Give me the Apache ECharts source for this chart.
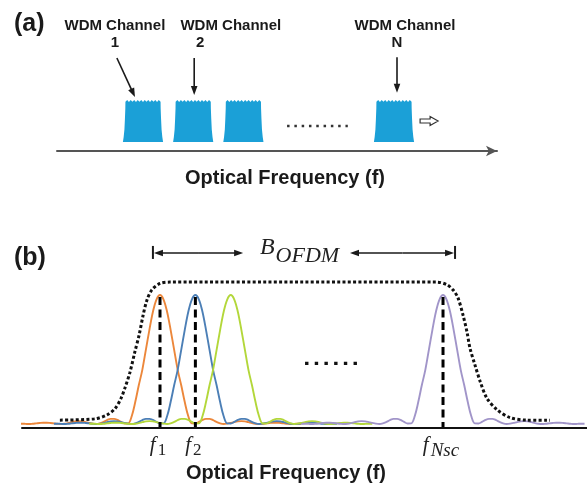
<!DOCTYPE html>
<html>
<head>
<meta charset="utf-8">
<title>WDM vs OFDM spectra</title>
<script src="https://cdn.jsdelivr.net/npm/echarts@6/dist/echarts.min.js"></script>
<style>
html,body{margin:0;padding:0;background:#ffffff;}
#chart{width:587px;height:486px;}
</style>
</head>
<body>
<div id="chart"></div>
<script>
// ===== Panel (a): WDM channels (x in channel-spacing units, y in normalised power) =====
const wdmAxisRange = [-0.713, 8.052];
const wdmLevelRange = [-0.2143, 1];
const wdmChannelPos = [1, 2, 3, 6];
const wdmBlockOffset = [-0.40, -0.385, -0.37, -0.36, -0.352, -0.35,
  -0.315, -0.28, -0.245, -0.21, -0.175, -0.14, -0.105, -0.07, -0.035, 0, 0.035, 0.07, 0.105, 0.14, 0.175, 0.21, 0.245, 0.28, 0.315,
  0.35, 0.352, 0.36, 0.37, 0.385, 0.40];
const wdmBlockLevel = [0, 0.12, 0.3, 0.55, 0.8, 0.96,
  1.0, 0.95, 1.0, 0.96, 1.0, 0.95, 1.0, 0.96, 1.0, 0.95, 1.0, 0.96, 1.0, 0.95, 1.0, 0.96, 1.0, 0.95, 1.0,
  0.96, 0.8, 0.55, 0.3, 0.12, 0];
const wdmLabelTitle = 'WDM Channel';
const wdmLabelNumber = ['1', '2', 'N'];
const wdmLabelTitleX = [0.44, 2.75, 6.22];
const wdmLabelNumberX = [0.44, 2.14, 6.06];
const wdmLabelTitleY = 2.76;
const wdmLabelNumberY = 2.36;
const wdmArrowTail = [[0.48, 2.0], [2.02, 2.0], [6.06, 2.02]];
const wdmArrowHead = [[0.84, 1.07], [2.02, 1.12], [6.06, 1.17]];
const wdmEllipsisX = [3.87, 5.08];
const wdmEllipsisY = 0.38;
const wdmShiftArrow = [6.52, 0.5];
const axisTitle = 'Optical Frequency (f)';

// ===== Panel (b): OFDM subcarriers (x in subcarrier-spacing units) =====
const ofdmAxisRange = [-2.901, 13.07];
const ofdmLevelRange = [-0.0271, 1];
const subcarrierPos = [1, 2, 3, 9];
const subcarrierNames = ['Subcarrier 1', 'Subcarrier 2', 'Subcarrier 3', 'Subcarrier Nsc'];
const subcarrierColors = ['#ec873b', '#4c7fb6', '#b3d73a', '#a195c9'];
const markedPos = [1, 2, 9];
const markedSub = ['1', '2', 'Nsc'];
const profileOffset = [0, 0.1, 0.2, 0.3, 0.4, 0.5, 0.6, 0.7, 0.8, 0.9, 1.0, 1.1, 1.2, 1.3, 1.4, 1.5, 1.6, 1.7, 1.8, 1.9,
  2.0, 2.1, 2.2, 2.3, 2.4, 2.5, 2.6, 2.7, 2.8, 2.9, 3.0, 3.1, 3.2, 3.3, 3.4, 3.5, 3.6, 3.7, 3.8, 3.9, 4.0];
const profileValue = [1.0, 0.965, 0.87, 0.73, 0.575, 0.42, 0.3, 0.17, 0.06, 0.005,
  0.004, 0.016, 0.032, 0.04, 0.04, 0.03, 0.016, 0.005, 0.0, 0.003,
  0.009, 0.015, 0.02, 0.022, 0.02, 0.014, 0.007, 0.002, 0.0, 0.002,
  0.005, 0.008, 0.01, 0.01, 0.008, 0.005, 0.002, 0.0, 0.001, 0.002, 0.002];
const envelopeX = [-1.83, -0.84, -0.50, -0.27, -0.10, 0.01, 0.15, 0.29, 0.41, 0.52, 0.63, 0.77, 1.0, 1.28, 5.0,
  8.83, 9.11, 9.28, 9.42, 9.57, 9.68, 9.76, 9.90, 10.05, 10.24, 10.53, 10.89, 11.37, 12.02];
const envelopeY = [0.03, 0.04, 0.07, 0.12, 0.20, 0.28, 0.40, 0.56, 0.69, 0.84, 0.96, 1.04, 1.09, 1.10, 1.10,
  1.10, 1.08, 1.04, 0.98, 0.84, 0.71, 0.59, 0.46, 0.33, 0.20, 0.11, 0.05, 0.03, 0.03];
const bandEdges = [0.80, 9.34];
const bandInner = [3.35, 6.37];
const bandLevel = 1.326;
const ofdmEllipsisX = [5.10, 6.57];
const ofdmEllipsisY = 0.47;

// ---------- helpers ----------
const SANS = '"Liberation Sans", Arial, sans-serif';
const SERIF = '"Liberation Serif", "Times New Roman", serif';
const measureCtx = document.createElement('canvas').getContext('2d');
function textWidth(t, font) { measureCtx.font = font; return measureCtx.measureText(t).width; }

function arrowEls(from, tip, lw, len, half, color) {
  const dx = tip[0] - from[0], dy = tip[1] - from[1];
  const d = Math.hypot(dx, dy) || 1;
  const ux = dx / d, uy = dy / d;
  const bx = tip[0] - ux * len, by = tip[1] - uy * len;
  return [
    { type: 'line', shape: { x1: from[0], y1: from[1], x2: bx + ux, y2: by + uy }, style: { stroke: color, lineWidth: lw } },
    { type: 'polygon', shape: { points: [[tip[0], tip[1]], [bx - uy * half, by + ux * half], [bx + uy * half, by - ux * half]] }, style: { fill: color } }
  ];
}

function buildSubcarrier(c) {
  const pts = [];
  for (let i = profileOffset.length - 1; i > 0; i--) pts.push([c - profileOffset[i], profileValue[i]]);
  for (let i = 0; i < profileOffset.length; i++) pts.push([c + profileOffset[i], profileValue[i]]);
  return pts;
}

const chart = echarts.init(document.getElementById('chart'), null, { renderer: 'canvas' });

const series = [];

// WDM channel spectra blocks
series.push({
  type: 'custom', name: 'WDM channels', xAxisIndex: 0, yAxisIndex: 0, silent: true, clip: false,
  data: wdmChannelPos.map(p => [p, 0]),
  renderItem: function (params, api) {
    const c = api.value(0);
    const pts = wdmBlockOffset.map((o, i) => api.coord([c + o, wdmBlockLevel[i]]));
    return { type: 'polygon', shape: { points: pts }, style: { fill: '#1ba0d7' } };
  }
});

// WDM channel labels and arrows
series.push({
  type: 'custom', name: 'WDM labels', xAxisIndex: 0, yAxisIndex: 0, silent: true, clip: false,
  data: wdmArrowHead.map(h => h.slice()),
  renderItem: function (params, api) {
    const i = params.dataIndex;
    const tail = api.coord(wdmArrowTail[i]);
    const head = api.coord(wdmArrowHead[i]);
    const t = api.coord([wdmLabelTitleX[i], wdmLabelTitleY]);
    const n = api.coord([wdmLabelNumberX[i], wdmLabelNumberY]);
    const font = 'bold 15px ' + SANS;
    return {
      type: 'group', children: arrowEls(tail, head, 1.6, 9, 3.3, '#1a1a1a').concat([
        { type: 'text', style: { text: wdmLabelTitle, x: t[0], y: t[1], align: 'center', verticalAlign: 'middle', font: font, fill: '#1a1a1a' } },
        { type: 'text', style: { text: wdmLabelNumber[i], x: n[0], y: n[1], align: 'center', verticalAlign: 'middle', font: font, fill: '#1a1a1a' } }
      ])
    };
  }
});

// WDM ellipsis and hollow shift arrow
series.push({
  type: 'custom', name: 'WDM more', xAxisIndex: 0, yAxisIndex: 0, silent: true, clip: false,
  data: [[wdmEllipsisX[0], wdmEllipsisY]],
  renderItem: function (params, api) {
    const a = api.coord([wdmEllipsisX[0], wdmEllipsisY]);
    const b = api.coord([wdmEllipsisX[1], wdmEllipsisY]);
    const s = api.coord(wdmShiftArrow);
    const x0 = s[0], y0 = s[1];
    return {
      type: 'group', children: [
        { type: 'line', shape: { x1: a[0], y1: a[1], x2: b[0], y2: b[1] }, style: { stroke: '#333', lineWidth: 2.5, lineDash: [2.5, 4.8] } },
        { type: 'polygon', shape: { points: [[x0, y0 - 2], [x0 + 10, y0 - 2], [x0 + 10, y0 - 4.5], [x0 + 18, y0], [x0 + 10, y0 + 4.5], [x0 + 10, y0 + 2], [x0, y0 + 2]] },
          style: { fill: '#ffffff', stroke: '#333', lineWidth: 1.2 } }
      ]
    };
  }
});

// OFDM subcarriers
subcarrierPos.forEach((c, k) => {
  series.push({
    type: 'line', name: subcarrierNames[k], xAxisIndex: 1, yAxisIndex: 1, clip: false,
    data: buildSubcarrier(c), showSymbol: false, smooth: 0.35, silent: true,
    lineStyle: { color: subcarrierColors[k], width: 1.9 }, z: 2
  });
});

// dashed centre markers + f labels
series.push({
  type: 'custom', name: 'markers', xAxisIndex: 1, yAxisIndex: 1, silent: true, z: 3, clip: false,
  data: markedPos.map(p => [p, 1]),
  renderItem: function (params, api) {
    const i = params.dataIndex;
    const c = markedPos[i];
    const top = api.coord([c, 1]);
    const bot = api.coord([c, 0]);
    const fFont = 'italic 21px ' + SERIF;
    const sub = markedSub[i];
    const isNum = /^[0-9]+$/.test(sub);
    const subFont = (isNum ? '17px ' : 'italic 19px ') + SERIF;
    const wf = textWidth('f', fFont) + 2, ws = textWidth(sub, subFont);
    const x0 = top[0] - 2 - (wf + ws) / 2;
    return {
      type: 'group', children: [
        { type: 'line', shape: { x1: top[0], y1: top[1] + 2, x2: bot[0], y2: bot[1] + 3 }, style: { stroke: '#000', lineWidth: 3, lineDash: [8, 4.5] } },
        { type: 'text', style: { text: 'f', x: x0, y: bot[1] + 21, align: 'left', verticalAlign: 'middle', font: fFont, fill: '#222' } },
        { type: 'text', style: { text: sub, x: x0 + wf, y: bot[1] + 27, align: 'left', verticalAlign: 'middle', font: subFont, fill: '#222' } }
      ]
    };
  }
});

// envelope (dotted)
series.push({
  type: 'line', name: 'OFDM envelope', xAxisIndex: 1, yAxisIndex: 1, silent: true, z: 4, clip: false,
  data: envelopeX.map((x, i) => [x, envelopeY[i]]), showSymbol: false, smooth: 0.3,
  lineStyle: { color: '#111', width: 3, type: [3, 2.3] }
});

// bandwidth annotation
series.push({
  type: 'custom', name: 'B_OFDM', xAxisIndex: 1, yAxisIndex: 1, silent: true, z: 5, clip: false,
  data: [[bandEdges[0], bandLevel]],
  renderItem: function (params, api) {
    const L = api.coord([bandEdges[0], bandLevel]);
    const R = api.coord([bandEdges[1], bandLevel]);
    const A = api.coord([bandInner[0], bandLevel]);
    const B = api.coord([bandInner[1], bandLevel]);
    const y = L[1];
    const col = '#1a1a1a';
    const m1 = (L[0] + A[0]) / 2, m2 = (B[0] + R[0]) / 2;
    const bFont = 'italic 24px ' + SERIF, sFont = 'italic 22px ' + SERIF;
    const wb = textWidth('B', bFont) + 1, wsub = textWidth('OFDM', sFont);
    const tx = (A[0] + B[0]) / 2 - (wb + wsub) / 2 + 3;
    let els = [
      { type: 'line', shape: { x1: L[0], y1: y - 7, x2: L[0], y2: y + 6 }, style: { stroke: col, lineWidth: 2 } },
      { type: 'line', shape: { x1: R[0], y1: y - 7, x2: R[0], y2: y + 6 }, style: { stroke: col, lineWidth: 2 } }
    ];
    els = els.concat(arrowEls([m1, y], [L[0] + 1, y], 1.6, 9, 3.3, col), arrowEls([m1, y], [A[0], y], 1.6, 9, 3.3, col),
      arrowEls([m2, y], [B[0], y], 1.6, 9, 3.3, col), arrowEls([m2, y], [R[0] - 1, y], 1.6, 9, 3.3, col));
    els.push({ type: 'text', style: { text: 'B', x: tx, y: y - 5.5, align: 'left', verticalAlign: 'middle', font: bFont, fill: '#222' } });
    els.push({ type: 'text', style: { text: 'OFDM', x: tx + wb, y: y + 3.5, align: 'left', verticalAlign: 'middle', font: sFont, fill: '#222' } });
    return { type: 'group', children: els };
  }
});

// OFDM ellipsis
series.push({
  type: 'custom', name: 'OFDM more', xAxisIndex: 1, yAxisIndex: 1, silent: true, clip: false,
  data: [[ofdmEllipsisX[0], ofdmEllipsisY]],
  renderItem: function (params, api) {
    const a = api.coord([ofdmEllipsisX[0], ofdmEllipsisY]);
    const b = api.coord([ofdmEllipsisX[1], ofdmEllipsisY]);
    return { type: 'line', shape: { x1: a[0], y1: a[1], x2: b[0], y2: b[1] }, style: { stroke: '#111', lineWidth: 3.4, lineDash: [3.4, 6.3] } };
  }
});

const option = {
  backgroundColor: '#ffffff',
  animation: false,
  grid: [
    { left: 57, width: 440, top: 100, height: 51 },
    { left: 22, right: 0, top: 295, height: 132.5 }
  ],
  xAxis: [
    { type: 'value', gridIndex: 0, min: wdmAxisRange[0], max: wdmAxisRange[1],
      axisLine: { show: true, onZero: false, symbol: ['none', 'arrow'], symbolSize: [8, 11], lineStyle: { color: '#555', width: 2 } },
      axisTick: { show: false }, axisLabel: { show: false }, splitLine: { show: false } },
    { type: 'value', gridIndex: 1, min: ofdmAxisRange[0], max: ofdmAxisRange[1],
      axisLine: { show: true, onZero: false, lineStyle: { color: '#111', width: 2 } },
      axisTick: { show: false }, axisLabel: { show: false }, splitLine: { show: false } }
  ],
  yAxis: [
    { type: 'value', gridIndex: 0, show: false, min: wdmLevelRange[0], max: wdmLevelRange[1] },
    { type: 'value', gridIndex: 1, show: false, min: ofdmLevelRange[0], max: ofdmLevelRange[1] }
  ],
  graphic: [
    { type: 'text', style: { text: '(a)', x: 14, y: 24, align: 'left', verticalAlign: 'middle', font: 'bold 25px ' + SANS, fill: '#1a1a1a' } },
    { type: 'text', style: { text: '(b)', x: 14, y: 258, align: 'left', verticalAlign: 'middle', font: 'bold 25px ' + SANS, fill: '#1a1a1a' } },
    { type: 'text', style: { text: axisTitle, x: 285, y: 178, align: 'center', verticalAlign: 'middle', font: 'bold 20px ' + SANS, fill: '#1a1a1a' } },
    { type: 'text', style: { text: axisTitle, x: 286, y: 473, align: 'center', verticalAlign: 'middle', font: 'bold 20px ' + SANS, fill: '#1a1a1a' } }
  ],
  series: series
};

chart.setOption(option);
</script>
</body>
</html>
